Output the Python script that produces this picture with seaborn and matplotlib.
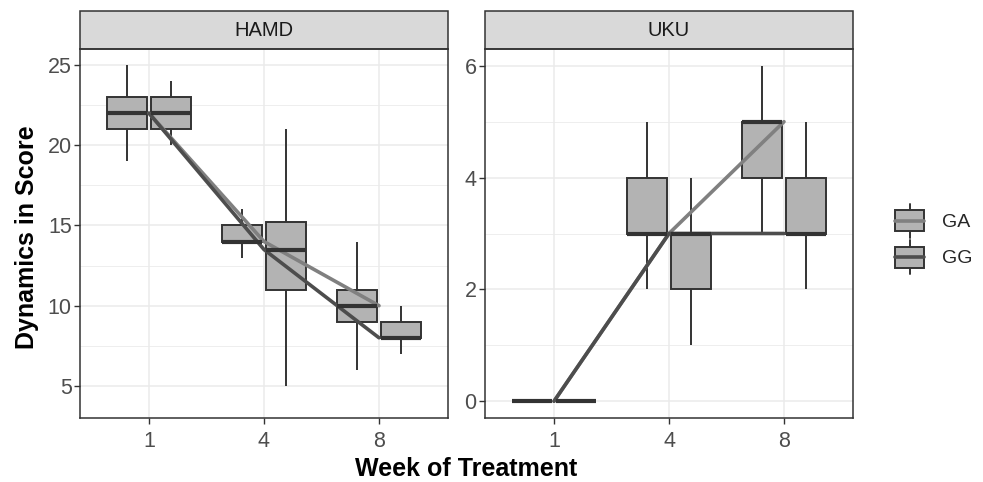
import numpy as np
import pandas as pd
import matplotlib
matplotlib.use("Agg")
import matplotlib.pyplot as plt
from matplotlib.patches import Rectangle
from matplotlib.lines import Line2D
from matplotlib.legend_handler import HandlerBase
from matplotlib.ticker import MultipleLocator
import seaborn as sns

weeks = [1, 4, 8]
genotypes = ["GA", "GG"]

# five-number summaries read off the boxes
# order: week1 GA, week1 GG, week4 GA, week4 GG, week8 GA, week8 GG
hamd_low = [19, 20, 13, 5, 6, 7]
hamd_q1 = [21, 21, 14, 11, 9, 8]
hamd_median = [22, 22, 14, 13.5, 10, 8]
hamd_q3 = [23, 23, 15, 15.2, 11, 9]
hamd_high = [25, 24, 16, 21, 14, 10]

uku_low = [0, 0, 2, 1, 3, 2]
uku_q1 = [0, 0, 3, 2, 4, 3]
uku_median = [0, 0, 3, 3, 5, 3]
uku_q3 = [0, 0, 4, 3, 5, 4]
uku_high = [0, 0, 5, 4, 6, 5]

box_fill = "#B3B3B3"
edge = "#333333"
line_colors = {"GA": "#808080", "GG": "#4D4D4D"}


def build_frame(scale, low, q1, med, q3, high):
    rows = []
    i = 0
    for w in weeks:
        for g in genotypes:
            for v in (low[i], q1[i], med[i], q3[i], high[i]):
                rows.append({"scale": scale, "week": w, "pos": weeks.index(w),
                             "genotype": g, "score": v})
            i += 1
    return pd.DataFrame(rows)


class BoxKey(HandlerBase):
    # ggplot style key: whisker, box and a median line in the line colour
    def create_artists(self, legend, orig_handle, xdescent, ydescent,
                       width, height, fontsize, trans):
        x0, y0 = -xdescent, -ydescent
        cx = x0 + width / 2
        whisker = Line2D([cx, cx], [y0, y0 + height], color=edge, lw=1.4, transform=trans)
        box = Rectangle((x0, y0 + height * 0.19), width, height * 0.62,
                        facecolor=box_fill, edgecolor=edge, lw=1.4, transform=trans)
        mid = Line2D([x0, x0 + width], [y0 + height / 2] * 2,
                     color=orig_handle.get_color(), lw=2.6, transform=trans)
        return [whisker, box, mid]


def main():
    sns.set_theme(style="white")
    plt.rcParams["font.family"] = ["Liberation Sans", "DejaVu Sans"]

    panels = [
        ("HAMD", build_frame("HAMD", hamd_low, hamd_q1, hamd_median, hamd_q3, hamd_high),
         (3.0, 26.0), 5, 2.5),
        ("UKU", build_frame("UKU", uku_low, uku_q1, uku_median, uku_q3, uku_high),
         (-0.3, 6.3), 2, 1),
    ]

    fig = plt.figure(figsize=(9.83, 4.82), dpi=100)
    W, H = 983, 482
    lefts = [80, 485]
    strip_h = 38 / 369

    for left, (name, df, ylim, major, minor) in zip(lefts, panels):
        ax = fig.add_axes([left / W, 1 - 418 / H, 368 / W, 369 / H])
        sns.boxplot(data=df, x="week", y="score", hue="genotype", hue_order=genotypes,
                    palette={g: box_fill for g in genotypes}, width=0.76, gap=0.1,
                    whis=(0, 100), showcaps=False, linecolor=edge, linewidth=1.4,
                    medianprops={"linewidth": 3}, legend=False, ax=ax)
        sns.lineplot(data=df, x="pos", y="score", hue="genotype", hue_order=genotypes,
                     estimator="median", errorbar=None, palette=line_colors,
                     linewidth=2.6, legend=False, ax=ax)

        ax.set_xlim(-0.6, 2.6)
        ax.set_ylim(*ylim)
        ax.set_xticks(range(len(weeks)))
        ax.set_xticklabels([str(w) for w in weeks])
        ax.yaxis.set_major_locator(MultipleLocator(major))
        ax.yaxis.set_minor_locator(MultipleLocator(minor))
        ax.grid(True, which="major", color="#EBEBEB", lw=1.1)
        ax.grid(True, which="minor", axis="y", color="#EBEBEB", lw=0.6)
        ax.set_axisbelow(True)
        ax.set_xlabel("")
        ax.set_ylabel("")
        ax.tick_params(which="major", length=4, width=1.0, color=edge,
                       labelsize=15.5, labelcolor="#4D4D4D",
                       left=True, bottom=True)
        ax.tick_params(axis="x", pad=5.5)
        ax.tick_params(axis="y", pad=2)
        ax.tick_params(which="minor", length=0)
        for sp in ax.spines.values():
            sp.set_color(edge)
            sp.set_linewidth(1.1)

        # facet strip
        ax.add_patch(Rectangle((0, 1), 1, strip_h, transform=ax.transAxes, clip_on=False,
                               facecolor="#D9D9D9", edgecolor=edge, lw=1.1))
        ax.text(0.5, 1 + strip_h / 2, name, transform=ax.transAxes, ha="center",
                va="center", fontsize=14.5, color="#1A1A1A")

    fig.text(27 / W, 1 - 237 / H, "Dynamics in Score", rotation=90, ha="center",
             va="center", fontsize=18, fontweight="bold", color="black")
    fig.text(466 / W, 1 - 469 / H, "Week of Treatment", ha="center", va="center",
             fontsize=18, fontweight="bold", color="black")

    handles = [Line2D([], [], color=line_colors[g]) for g in genotypes]
    fig.legend(handles, genotypes, handler_map={Line2D: BoxKey()},
               loc="center left", bbox_to_anchor=(895 / W, 1 - 239 / H),
               frameon=False, fontsize=14, handlelength=1.5, handleheight=2.3,
               labelspacing=0.12, handletextpad=0.9, borderpad=0, borderaxespad=0)

    fig.savefig("out.png", dpi=100)


if __name__ == "__main__":
    main()
